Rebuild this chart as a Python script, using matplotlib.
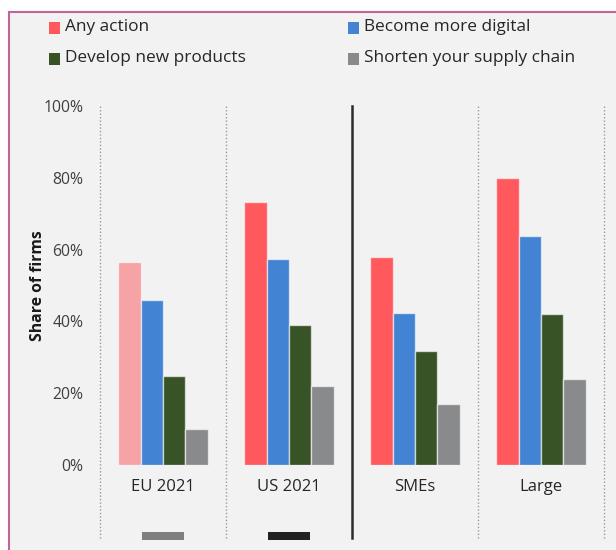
import matplotlib
matplotlib.use("Agg")
import matplotlib.pyplot as plt
from matplotlib.patches import Rectangle
import matplotlib.transforms as mtransforms
import numpy as np

plt.rcParams['font.family'] = ['Open Sans', 'DejaVu Sans']

categories = ["EU 2021", "US 2021", "SMEs", "Large"]
series = ["Any action", "Become more digital", "Develop new products", "Shorten your supply chain"]
any_action = [56.5, 73.3, 58.0, 80.0]
more_digital = [46.0, 57.4, 42.3, 63.8]
new_products = [24.8, 39.0, 31.8, 42.0]
supply_chain = [10.0, 22.0, 17.0, 24.0]
yticks = [0, 20, 40, 60, 80, 100]
ytick_labels = ["0%", "20%", "40%", "60%", "80%", "100%"]

colors = ["#ff585d", "#4383d4", "#385326", "#898a8c"]
faded_red = "#f7a2a5"

W, H = 616, 550
fig = plt.figure(figsize=(W / 100, H / 100), dpi=100)
fig.patch.set_facecolor("white")

# background panel with pink border (left & top visible)
panel = Rectangle((8.5 / W, -0.05), 1.1, 1 - 11.5 / H + 0.05, transform=fig.transFigure,
                  facecolor="#f2f2f2", edgecolor="#c2649c", linewidth=1.5, zorder=-10)
fig.patches.append(panel)

ax_left, ax_right = 100 / W, 604 / W
ax_bottom, ax_top = 1 - 465 / H, 1 - 106 / H
ax = fig.add_axes([ax_left, ax_bottom, ax_right - ax_left, ax_top - ax_bottom])
ax.set_facecolor("none")
ax.set_xlim(-0.5, 3.5)
ax.set_ylim(0, 100)

x = np.arange(len(categories))
bw = 0.178
data = [any_action, more_digital, new_products, supply_chain]
for i, (vals, c) in enumerate(zip(data, colors)):
    offs = (i - 1.5) * bw
    bars = ax.bar(x + offs, vals, width=bw, color=c, edgecolor=(1, 1, 1, 0.6),
                  linewidth=1, zorder=3)
    if i == 0:
        bars[0].set_facecolor(faded_red)

for s in ax.spines.values():
    s.set_visible(False)

ax.set_yticks(yticks)
ax.set_yticklabels(ytick_labels, fontsize=11.3, color="#404040")
ax.tick_params(axis="y", length=0, pad=12)
ax.set_xticks(x)
ax.set_xticklabels(categories, fontsize=12, color="#262626")
ax.tick_params(axis="x", length=0, pad=10)

ax.set_ylabel("Share of firms", fontsize=11.3, fontweight="bold", color="#1a1a1a", labelpad=-2)

# separators
trans = mtransforms.blended_transform_factory(ax.transData, ax.transAxes)
ybot = -(538 - 465) / (465 - 106)
for xs in [-0.5, 0.5, 2.5, 3.5]:
    ax.plot([xs, xs], [ybot, 1.0], transform=trans, color="#9a9a9a", linestyle=(0, (1, 1.5)),
            linewidth=1, clip_on=False, zorder=1)
ax.plot([1.5, 1.5], [ybot, 1.0], transform=trans, color="#2b2b2b", linewidth=1.8,
        clip_on=False, zorder=1)

# small indicator rectangles below groups
rh = 8 / (465 - 106)
ry = -(540 - 465) / (465 - 106)
for xc, col in [(0, "#7f7f7f"), (1, "#222222")]:
    ax.add_patch(Rectangle((xc - 0.163, ry), 0.326, rh, transform=trans, facecolor=col,
                           edgecolor="none", clip_on=False))

# legend
leg_pos = [(49, 28), (348, 28), (49, 59), (348, 59)]
for (px, py), name, c in zip(leg_pos, series, colors):
    fig.patches.append(Rectangle((px / W, 1 - (py + 5.5) / H), 11 / W, 11 / H,
                                 transform=fig.transFigure, facecolor=c, edgecolor="none"))
    fig.text((px + 16) / W, 1 - (py - 1) / H, name, fontsize=12.4, color="#262626",
             va="center", ha="left")

fig.savefig("out.png", dpi=100, facecolor=fig.get_facecolor())
